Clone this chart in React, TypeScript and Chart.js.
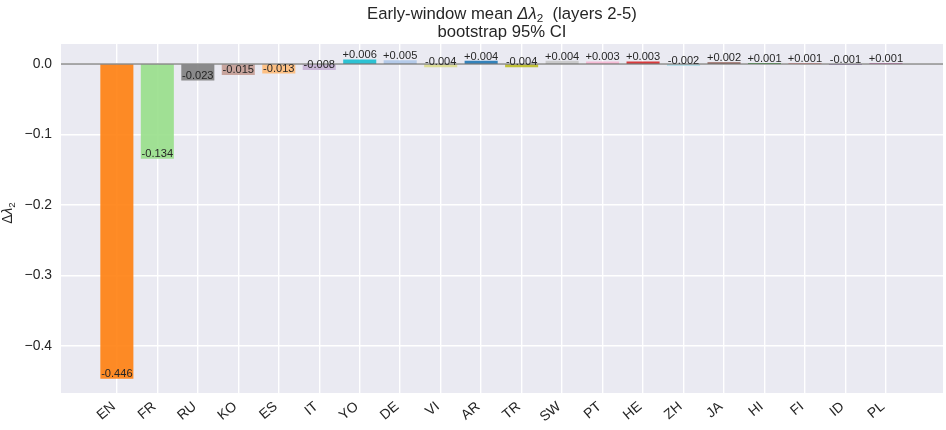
import React, { useEffect, useRef } from "react";
import { Chart, registerables } from "chart.js";

Chart.register(...registerables);

const languages = ["EN", "FR", "RU", "KO", "ES", "IT", "YO", "DE", "VI", "AR", "TR", "SW", "PT", "HE", "ZH", "JA", "HI", "FI", "ID", "PL"];
const deltas = [-0.446, -0.134, -0.023, -0.015, -0.013, -0.008, 0.006, 0.005, -0.004, 0.004, -0.004, 0.004, 0.003, 0.003, -0.002, 0.002, 0.001, 0.001, -0.001, 0.001];
const barColors = ["#ff7f0e", "#98df8a", "#7f7f7f", "#c49c94", "#ffbb78", "#c5b0d5", "#17becf", "#aec7e8", "#dbdb8d", "#1f77b4", "#bcbd22", "#c7c7c7", "#f7b6d2", "#d62728", "#9edae5", "#8c564b", "#2ca02c", "#ff9896", "#9467bd", "#e377c2"];
const yTickValues = [0, -0.1, -0.2, -0.3, -0.4];
const titlePre = "Early-window mean ";
const titleSymbol = "\u0394\u03bb";
const titleSub = "2";
const titlePost = "  (layers 2-5)";
const subtitle = "bootstrap 95% CI";
const yLabelDelta = "\u0394";
const yLabelLambda = "\u03bb";
const yLabelSub = "2";

const FONT = "'Liberation Sans', Arial, sans-serif";
const TEXT = "#262626";

function hexA(hex: string, a: number) {
  const n = parseInt(hex.slice(1), 16);
  return `rgba(${(n >> 16) & 255},${(n >> 8) & 255},${n & 255},${a})`;
}

type Seg = { t: string; font: string; dy: number };

function drawSegs(ctx: CanvasRenderingContext2D, segs: Seg[], cx: number, baseline: number) {
  let total = 0;
  const widths = segs.map((s) => {
    ctx.font = s.font;
    const w = ctx.measureText(s.t).width;
    total += w;
    return w;
  });
  let x = cx - total / 2;
  ctx.textAlign = "left";
  ctx.textBaseline = "alphabetic";
  segs.forEach((s, i) => {
    ctx.font = s.font;
    ctx.fillText(s.t, x, baseline + s.dy);
    x += widths[i];
  });
}

const bgPlugin = {
  id: "bgPlugin",
  beforeDraw(chart: any) {
    const { ctx, chartArea } = chart;
    ctx.save();
    ctx.fillStyle = "#eaeaf2";
    ctx.fillRect(chartArea.left, chartArea.top, chartArea.right - chartArea.left, chartArea.bottom - chartArea.top);
    ctx.restore();
  },
};

const overlayPlugin = {
  id: "overlayPlugin",
  afterDatasetsDraw(chart: any) {
    const { ctx, chartArea, scales } = chart;
    const y0 = scales.y.getPixelForValue(0);
    ctx.save();
    ctx.strokeStyle = "#555555";
    ctx.lineWidth = 1.1;
    ctx.beginPath();
    ctx.moveTo(chartArea.left, y0);
    ctx.lineTo(chartArea.right, y0);
    ctx.stroke();

    // value labels
    ctx.fillStyle = TEXT;
    ctx.font = `11.1px ${FONT}`;
    ctx.textAlign = "center";
    ctx.textBaseline = "bottom";
    deltas.forEach((v, i) => {
      const x = scales.x.getPixelForValue(i);
      const y = scales.y.getPixelForValue(v);
      const s = (v > 0 ? "+" : "") + v.toFixed(3);
      ctx.fillText(s, x, y + 1);
    });

    // x tick labels, rotated 40 degrees, right/top aligned like matplotlib
    const ang = (40 * Math.PI) / 180;
    const fs = 13.9;
    ctx.font = `${fs}px ${FONT}`;
    ctx.textAlign = "center";
    ctx.textBaseline = "middle";
    const h = fs * 0.9;
    languages.forEach((lab, i) => {
      const x = scales.x.getPixelForValue(i);
      const w = ctx.measureText(lab).width;
      const bw = w * Math.cos(ang) + h * Math.sin(ang);
      const bh = w * Math.sin(ang) + h * Math.cos(ang);
      const cx = x + 1 - bw / 2;
      const cy = chartArea.bottom + 7 + bh / 2;
      ctx.save();
      ctx.translate(cx, cy);
      ctx.rotate(-ang);
      ctx.fillText(lab, 0, 0);
      ctx.restore();
    });

    // title
    const tc = (chartArea.left + chartArea.right) / 2;
    const tf = 16.7;
    drawSegs(
      ctx,
      [
        { t: titlePre, font: `${tf}px ${FONT}`, dy: 0 },
        { t: titleSymbol, font: `italic ${tf}px ${FONT}`, dy: 0 },
        { t: titleSub, font: `${tf * 0.7}px ${FONT}`, dy: 3.5 },
        { t: titlePost, font: `${tf}px ${FONT}`, dy: 0 },
      ],
      tc,
      18.5
    );
    drawSegs(ctx, [{ t: subtitle, font: `${tf}px ${FONT}`, dy: 0 }], tc, 36.5);

    // y axis label
    ctx.save();
    ctx.translate(12, 213);
    ctx.rotate(-Math.PI / 2);
    const yf = 13.9;
    drawSegs(
      ctx,
      [
        { t: yLabelDelta, font: `${yf}px ${FONT}`, dy: 0 },
        { t: yLabelLambda, font: `italic ${yf}px ${FONT}`, dy: 0 },
        { t: yLabelSub, font: `${yf * 0.7}px ${FONT}`, dy: 3 },
      ],
      0,
      0
    );
    ctx.restore();
    ctx.restore();
  },
};

export default function App() {
  const ref = useRef<HTMLCanvasElement | null>(null);
  useEffect(() => {
    document.body.style.margin = "0";
    const canvas = ref.current!;
    const chart = new Chart(canvas, {
      type: "bar",
      data: {
        datasets: [
          {
            data: deltas.map((v, i) => ({ x: i, y: v })),
            backgroundColor: barColors.map((c) => hexA(c, 0.9)),
            borderWidth: 0,
            barThickness: 32.4,
          } as any,
        ],
      },
      options: {
        responsive: false,
        animation: false,
        devicePixelRatio: 1,
        layout: { padding: { left: 0, right: 3, top: 44, bottom: 0 } },
        plugins: {
          legend: { display: false },
          tooltip: { enabled: false },
          title: { display: false },
        },
        scales: {
          x: {
            type: "linear",
            min: -1.38,
            max: 20.41,
            offset: false,
            border: { display: false },
            grid: { color: "#ffffff", lineWidth: 1.4, drawTicks: false, offset: false },
            afterBuildTicks: (scale: any) => {
              scale.ticks = languages.map((_, i) => ({ value: i }));
            },
            afterFit: (scale: any) => {
              scale.height = 37;
            },
            ticks: { display: false },
          },
          y: {
            min: -0.4667,
            max: 0.0284,
            border: { display: false },
            grid: { color: "#ffffff", lineWidth: 1.4, drawTicks: false },
            afterBuildTicks: (scale: any) => {
              scale.ticks = yTickValues.map((v) => ({ value: v }));
            },
            afterFit: (scale: any) => {
              scale.width = 61;
            },
            ticks: {
              padding: 9,
              color: TEXT,
              font: { family: FONT, size: 13.9 },
              callback: (v: any) => {
                const n = Number(v);
                return n === 0 ? "0.0" : "\u2212" + Math.abs(n).toFixed(1);
              },
            },
          },
        },
      } as any,
      plugins: [bgPlugin, overlayPlugin],
    });
    return () => chart.destroy();
  }, []);
  return (
    <div style={{ width: 946, height: 430 }}>
      <canvas ref={ref} width={946} height={430} style={{ display: "block", width: 946, height: 430 }} />
    </div>
  );
}
